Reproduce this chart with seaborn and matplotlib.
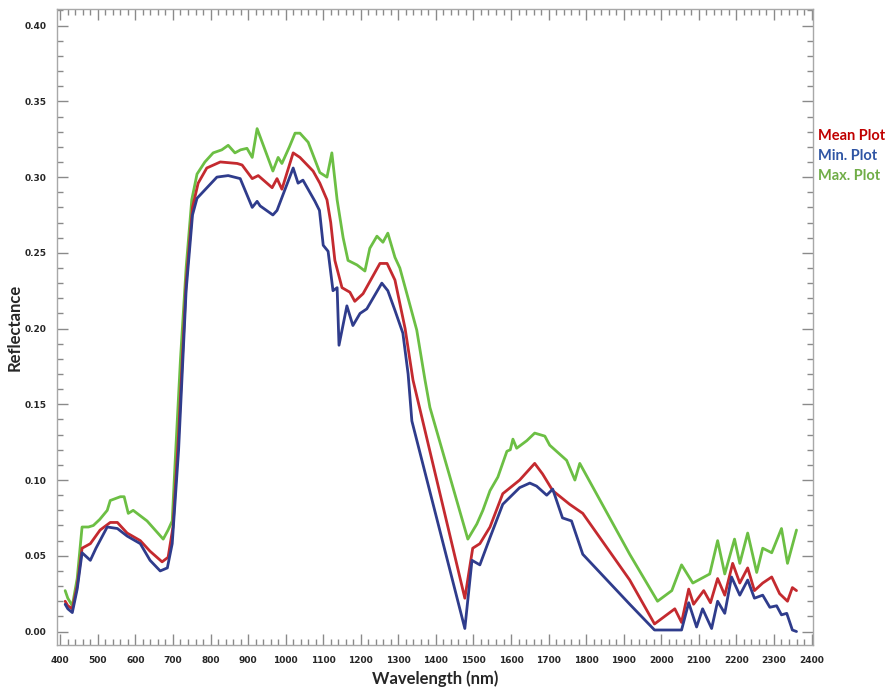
import numpy as np
import pandas as pd
import matplotlib
matplotlib.use("Agg")
import matplotlib.pyplot as plt
from matplotlib.ticker import MultipleLocator
import seaborn as sns

# Spectral reflectance curves
wl_max = [413, 420, 432, 445, 458, 475, 488, 505, 525, 533, 560, 570, 581, 594, 631, 674, 687, 698,
          706, 720, 735, 750, 764, 785, 807, 830, 847, 865, 880, 897, 911, 924, 945, 966, 980, 990,
          1010, 1025, 1038, 1060, 1091, 1110, 1123, 1137, 1153, 1166, 1190, 1211, 1224, 1243, 1259,
          1272, 1291, 1304, 1326, 1349, 1371, 1384, 1485, 1509, 1525, 1544, 1565, 1589, 1598, 1605,
          1615, 1642, 1663, 1690, 1703, 1748, 1770, 1783, 1916, 1990, 2028, 2054, 2084, 2129, 2150,
          2169, 2195, 2209, 2230, 2254, 2270, 2294, 2320, 2336, 2360]
max_vals = [0.027, 0.022, 0.017, 0.035, 0.069, 0.069, 0.070, 0.074, 0.080, 0.0865, 0.089, 0.089,
            0.078, 0.080, 0.073, 0.061, 0.067, 0.073, 0.113, 0.180, 0.240, 0.285, 0.302, 0.310,
            0.316, 0.318, 0.321, 0.316, 0.318, 0.319, 0.313, 0.332, 0.318, 0.304, 0.313, 0.309,
            0.320, 0.329, 0.329, 0.323, 0.303, 0.300, 0.316, 0.285, 0.260, 0.245, 0.242, 0.238,
            0.253, 0.261, 0.257, 0.263, 0.247, 0.240, 0.220, 0.199, 0.166, 0.148, 0.061, 0.071,
            0.080, 0.093, 0.102, 0.119, 0.120, 0.127, 0.121, 0.126, 0.131, 0.129, 0.123, 0.113,
            0.100, 0.111, 0.051, 0.020, 0.027, 0.044, 0.032, 0.038, 0.060, 0.038, 0.061, 0.045,
            0.065, 0.039, 0.055, 0.052, 0.068, 0.045, 0.067]

wl_mean = [413, 420, 432, 445, 458, 480, 506, 533, 552, 578, 613, 639, 671, 687, 700, 715, 735, 752,
           767, 790, 826, 871, 884, 911, 927, 964, 977, 990, 1020, 1038, 1073, 1091, 1110, 1120,
           1131, 1150, 1171, 1184, 1206, 1251, 1270, 1291, 1318, 1339, 1477, 1498, 1517, 1544,
           1578, 1623, 1663, 1684, 1711, 1756, 1791, 1916, 1982, 2036, 2054, 2073, 2086, 2113,
           2131, 2150, 2169, 2190, 2209, 2230, 2248, 2270, 2294, 2315, 2336, 2349, 2360]
mean_vals = [0.020, 0.017, 0.015, 0.030, 0.055, 0.058, 0.067, 0.072, 0.072, 0.065, 0.060, 0.053,
             0.046, 0.049, 0.069, 0.130, 0.230, 0.280, 0.296, 0.306, 0.310, 0.309, 0.308, 0.299,
             0.301, 0.293, 0.299, 0.292, 0.316, 0.313, 0.304, 0.296, 0.285, 0.270, 0.245, 0.227,
             0.224, 0.218, 0.223, 0.243, 0.243, 0.232, 0.200, 0.166, 0.022, 0.055, 0.058, 0.069,
             0.091, 0.100, 0.111, 0.104, 0.093, 0.084, 0.078, 0.034, 0.005, 0.015, 0.006, 0.028,
             0.018, 0.027, 0.019, 0.035, 0.024, 0.045, 0.032, 0.042, 0.027, 0.032, 0.036, 0.025,
             0.020, 0.029, 0.027]

wl_min = [413, 420, 432, 445, 458, 480, 495, 510, 525, 552, 578, 613, 639, 666, 685, 698, 715, 735,
          752, 764, 817, 847, 879, 911, 924, 932, 966, 977, 1020, 1033, 1046, 1078, 1090, 1100,
          1113, 1126, 1137, 1142, 1163, 1179, 1198, 1216, 1256, 1272, 1291, 1312, 1326, 1336, 1477,
          1496, 1517, 1544, 1578, 1623, 1650, 1668, 1695, 1711, 1737, 1761, 1791, 1916, 1982, 2054,
          2073, 2094, 2110, 2134, 2150, 2169, 2187, 2209, 2230, 2248, 2270, 2289, 2307, 2320, 2334,
          2349, 2360]
min_vals = [0.018, 0.015, 0.0125, 0.028, 0.052, 0.047, 0.055, 0.062, 0.069, 0.068, 0.063, 0.058,
            0.047, 0.040, 0.042, 0.058, 0.120, 0.225, 0.275, 0.286, 0.300, 0.301, 0.299, 0.280,
            0.284, 0.281, 0.275, 0.278, 0.306, 0.296, 0.298, 0.284, 0.278, 0.255, 0.251, 0.225,
            0.227, 0.189, 0.215, 0.202, 0.210, 0.213, 0.230, 0.225, 0.212, 0.197, 0.170, 0.139,
            0.002, 0.047, 0.044, 0.062, 0.084, 0.095, 0.098, 0.096, 0.090, 0.094, 0.075, 0.073,
            0.051, 0.018, 0.001, 0.001, 0.019, 0.003, 0.015, 0.002, 0.020, 0.012, 0.036, 0.024,
            0.034, 0.022, 0.024, 0.016, 0.017, 0.011, 0.012, 0.001, 0.000]

series_names = ["Mean Plot", "Min. Plot", "Max. Plot"]
line_colors = {"Max. Plot": "#6cbf44", "Mean Plot": "#c42a2f", "Min. Plot": "#2f3c8c"}
text_colors = {"Mean Plot": "#c00000", "Min. Plot": "#2f55a4", "Max. Plot": "#70ad47"}

sns.set_style("ticks")
plt.rcParams['font.family'] = ['Lato', 'DejaVu Sans']

fig = plt.figure(figsize=(8.95, 6.9), dpi=100)
ax = fig.add_axes([0.064, 0.065, 0.844, 0.922])

sns.lineplot(x=wl_max, y=max_vals, ax=ax, color=line_colors["Max. Plot"], linewidth=2)
sns.lineplot(x=wl_mean, y=mean_vals, ax=ax, color=line_colors["Mean Plot"], linewidth=2)
sns.lineplot(x=wl_min, y=min_vals, ax=ax, color=line_colors["Min. Plot"], linewidth=2)

ax.set_xlim(392, 2403)
ax.set_ylim(-0.009, 0.411)

ax.xaxis.set_major_locator(MultipleLocator(100))
ax.xaxis.set_minor_locator(MultipleLocator(20))
ax.yaxis.set_major_locator(MultipleLocator(0.05))
ax.yaxis.set_minor_locator(MultipleLocator(0.01))
ax.tick_params(which='both', direction='in', top=True, right=True, color='#8a8a8a', width=1)
ax.tick_params(which='major', length=8)
ax.tick_params(which='minor', length=4)
ax.tick_params(axis='both', labelsize=6.5, pad=8)
ax.yaxis.set_major_formatter(matplotlib.ticker.FormatStrFormatter('%.2f'))
for lab in ax.get_xticklabels() + ax.get_yticklabels():
    lab.set_fontweight('bold')
    lab.set_family('DejaVu Sans')

for sp in ax.spines.values():
    sp.set_color('#a8a8a8')
    sp.set_linewidth(1)

ax.set_xlabel("Wavelength (nm)", fontsize=12, fontweight='bold', labelpad=4)
ax.set_ylabel("Reflectance", fontsize=12, fontweight='bold')
ax.yaxis.set_label_coords(-0.046, 0.5)

# coloured text labels to the right of the plot act as the legend
for i, name in enumerate(series_names):
    fig.text(0.914, 0.803 - i * 0.029, name, color=text_colors[name],
             fontsize=10.5, fontweight='bold', va='center', ha='left')

fig.savefig("out.png", dpi=100)
